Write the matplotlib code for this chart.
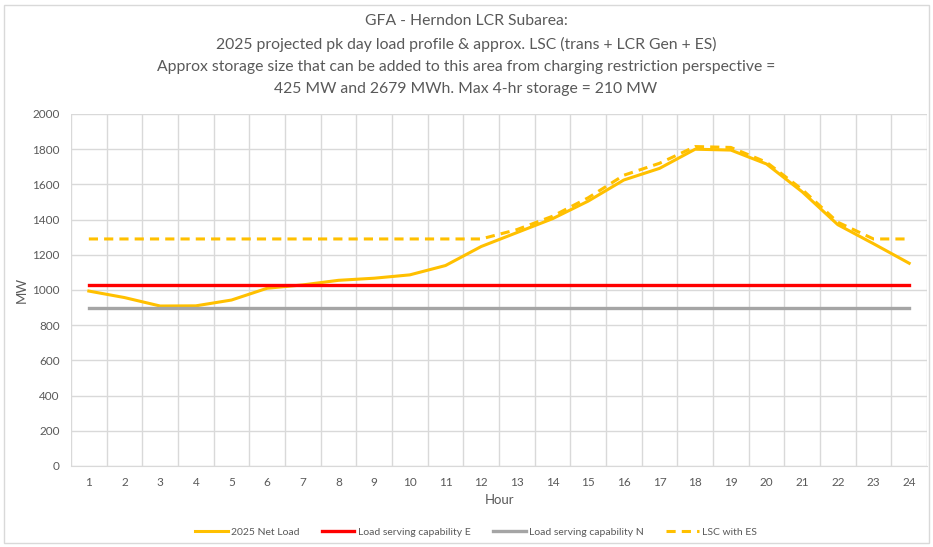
import matplotlib
matplotlib.use("Agg")
import matplotlib.pyplot as plt
from matplotlib.patches import Rectangle
import numpy as np

hours = list(range(1, 25))
net_load = [994, 957, 909, 910, 943, 1010, 1029, 1055, 1067, 1086, 1139, 1247,
            1326, 1405, 1505, 1625, 1691, 1800, 1795, 1716, 1558, 1371, 1263, 1152]
lsc_es = [1290, 1290, 1290, 1290, 1290, 1290, 1290, 1290, 1290, 1290, 1290, 1290,
          1343, 1419, 1524, 1652, 1720, 1815, 1810, 1726, 1571, 1385, 1290, 1290]
lsc_e = [1029] * 24
lsc_n = [897] * 24
y_ticks = [0, 200, 400, 600, 800, 1000, 1200, 1400, 1600, 1800, 2000]

title = ("GFA - Herndon LCR Subarea:\n"
         "2025 projected pk day load profile & approx. LSC (trans + LCR Gen + ES)\n"
         "Approx storage size that can be added to this area from charging restriction perspective =\n"
         "425 MW and 2679 MWh. Max 4-hr storage = 210 MW")

plt.rcParams['font.family'] = ['Lato', 'DejaVu Sans']
txt = '#595959'
grid = '#D9D9D9'

fig = plt.figure(figsize=(9.33, 5.47), dpi=100)
fig.patches.append(Rectangle((4/933, 1-543/547), 925/933, 538/547, transform=fig.transFigure,
                             fill=False, edgecolor='#D9D9D9', linewidth=1))
ax = fig.add_axes([71/933, 1-466/547, (927-71)/933, (466-114)/547])

ax.plot(hours, net_load, color='#FFC000', lw=2.2, label='2025 Net Load', zorder=3)
ax.plot(hours, lsc_e, color='#FF0000', lw=2.4, label='Load serving capability E', zorder=3)
ax.plot(hours, lsc_n, color='#A5A5A5', lw=2.4, label='Load serving capability N', zorder=3)
ax.plot(hours, lsc_es, color='#FFC000', lw=2.2, ls=(0, (3, 2)), label='LSC with ES', zorder=3)

ax.set_xlim(0.5, 24.5)
ax.set_ylim(0, 2000)
ax.set_yticks(y_ticks)
ax.set_xticks(hours)
ax.set_xticks(np.arange(0.5, 25, 1), minor=True)
ax.grid(True, which='minor', axis='x', color=grid, lw=1)
ax.grid(True, which='major', axis='y', color=grid, lw=1)
ax.set_axisbelow(True)
for s in ['left', 'top', 'right']:
    ax.spines[s].set_visible(False)
ax.spines['bottom'].set_color(grid)
ax.tick_params(axis='both', which='both', length=0, labelsize=8.5, colors=txt)
ax.tick_params(axis='x', pad=8)
ax.tick_params(axis='y', pad=8)
ax.set_xlabel('Hour', fontsize=9.5, color=txt, labelpad=4)
ax.set_ylabel('MW', fontsize=9.5, color=txt, labelpad=3)

fig.text(466/933, 1-14/547, title, ha='center', va='top', fontsize=11.3, color=txt,
         linespacing=1.72)

leg = fig.legend(loc='center', bbox_to_anchor=(476/933, 1-532/547), ncol=4, frameon=False,
                 fontsize=7.5, handlelength=3.1, columnspacing=2.2, handletextpad=0.3)
for t in leg.get_texts():
    t.set_color(txt)

fig.savefig('out.png', dpi=100)
